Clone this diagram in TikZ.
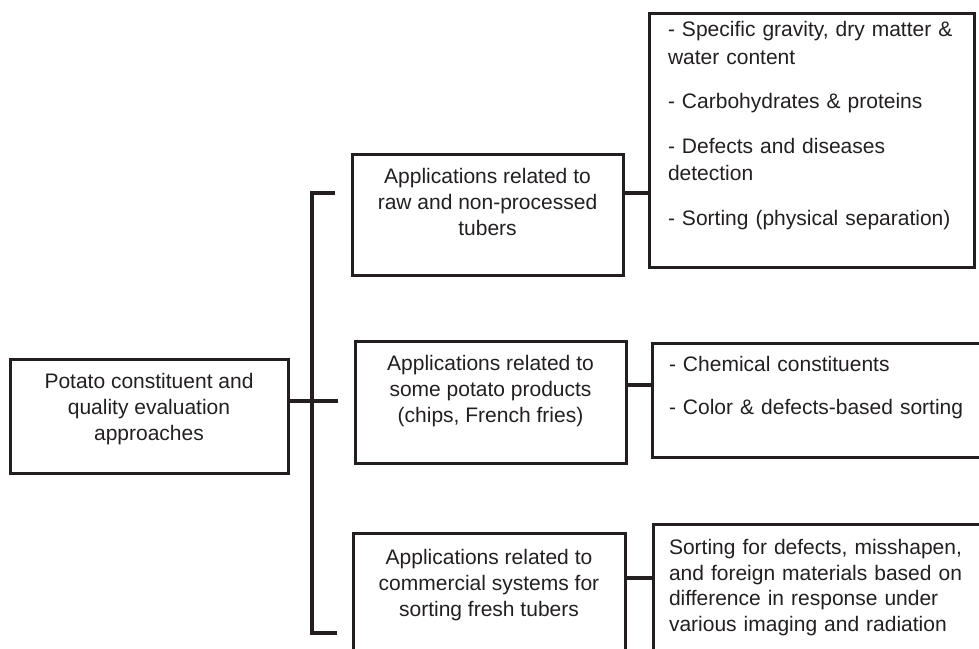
\documentclass[tikz,border=0pt]{standalone}
\usepackage{fontspec}
\setmainfont{Liberation Sans}
\usetikzlibrary{positioning}
\definecolor{ink}{HTML}{231F20}
\newcommand{\boxfont}{\fontsize{21}{26}\selectfont}

\begin{document}
\begin{tikzpicture}[
    x=1pt, y=-1pt,
    box/.style={draw=ink, text=ink, line width=3pt, inner sep=0pt, align=center, font=\boxfont},
    listbox/.style={box, align=left},
    link/.style={draw=ink, line width=3.1pt}
]

% ramme
\useasboundingbox (0,0) rectangle (979,648);
\clip (0,0) rectangle (979,648);

% hovedknude
\node[box, minimum width=278pt, minimum height=114pt] (root) at (149,416)
{Potato constituent and\\quality evaluation\\approaches\\[-8pt]\mbox{}};

% anvendelser
\node[box, minimum width=271pt, minimum height=121pt] (raw) at (487.5,214.5)
{Applications related to\\raw and non-processed\\tubers\\\mbox{}};
\node[box, minimum width=271pt, minimum height=122pt] (prod) at (490.5,402)
{Applications related to\\some potato products\\(chips, French fries)\\\mbox{}};
\node[box, minimum width=272pt, minimum height=122pt] (comm) at (489,594)
{Applications related to\\commercial systems for\\sorting fresh tubers\\[-4pt]\mbox{}};

% lister
\node[listbox, text width=287pt, minimum width=325pt, minimum height=254pt,
      font=\fontsize{21}{27.5}\selectfont] (list1) at (811.5,140)
{- Specific gravity, dry matter \&\\water content\\[17pt]- Carbohydrates \& proteins\\[17pt]- Defects and diseases\\detection\\[17pt]- Sorting (physical separation)\\[6pt]\mbox{}};
\node[listbox, text width=314pt, minimum width=348pt, minimum height=114pt] (list2) at (826,400)
{- Chemical constituents\\[17pt]- Color \& defects-based sorting\\[3pt]\mbox{}};
\node[listbox, text width=315pt, minimum width=347pt, minimum height=136pt,
      font=\fontsize{21}{25.5}\selectfont] (list3) at (826.5,592)
{Sorting for defects, misshapen,\\and foreign materials based on\\difference in response under\\various imaging and radiation\\[-12pt]\mbox{}};

% klamme
\coordinate (brtop) at (335,193);
\coordinate (brmid) at (338,401);
\coordinate (brbot) at (337,633);
\draw[link] (brtop) -- ++(-23,0) |- (brbot);
\draw[link] (root.east |- brmid) -- (brmid);

% forbindelser
\draw[link] (raw.east |- brtop) -- (list1.west |- brtop);
\draw[link] ([yshift=17pt]prod.east) -- ([yshift=17pt]prod.east -| list2.west);
\draw[link] ([yshift=16pt]comm.east) -- ([yshift=16pt]comm.east -| list3.west);

\end{tikzpicture}
\end{document}
